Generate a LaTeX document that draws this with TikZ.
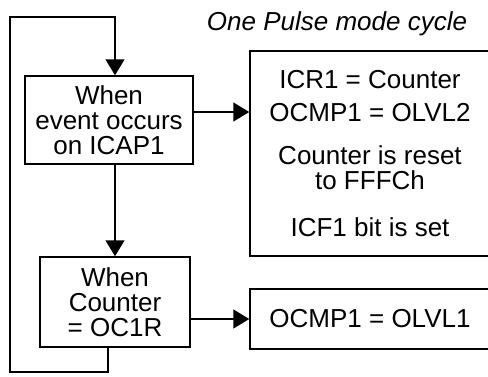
\documentclass[tikz,border=0pt]{standalone}
\usepackage{fontspec}
\setmainfont{Liberation Sans}
\usetikzlibrary{arrows.meta}
\begin{document}
\begin{tikzpicture}[x=1pt,y=-1pt,
  line width=1.5pt,
  box/.style={draw, rectangle, inner sep=0pt, align=center, font=\fontsize{26}{25}\selectfont},
  arr/.style={-{Triangle[width=19pt,length=16pt]}},
  lbl/.style={font=\fontsize{26}{25}\selectfont\itshape, inner sep=0pt, anchor=base}]
\useasboundingbox (0,0) rectangle (488,376);
\node[lbl] (title) at (337,30) {One Pulse mode cycle};
\node[box, minimum width=168pt, minimum height=88pt] (box1) at (109,120) {When\\event occurs\\on ICAP1};
\node[box, minimum width=240pt, minimum height=205pt] (box2) at (370,153.5) {ICR1 = Counter\\[8pt]OCMP1 = OLVL2\\[18pt]Counter is reset\\to FFFCh\\[22pt]ICF1 bit is set};
\node[box, minimum width=150pt, minimum height=90pt] (box3) at (115,302) {When\\Counter\\= OC1R};
\node[box, minimum width=240pt, minimum height=60pt] (box4) at (370,319) {OCMP1 = OLVL1};
\coordinate (lb) at (10,372);
\coordinate (lt) at (10,17);
\draw[arr] ([yshift=8pt]box1.east) -- ([yshift=8pt]box1.east -| box2.west);
\draw[arr] (box1.south -| box3.north) -- (box3.north);
\draw[arr] (box3.east |- box4.west) -- (box4.west);
\draw[arr] ([xshift=-7pt]box3.south) |- (lb) -- (lt) -| ([xshift=6pt]box1.north);
\end{tikzpicture}
\end{document}
